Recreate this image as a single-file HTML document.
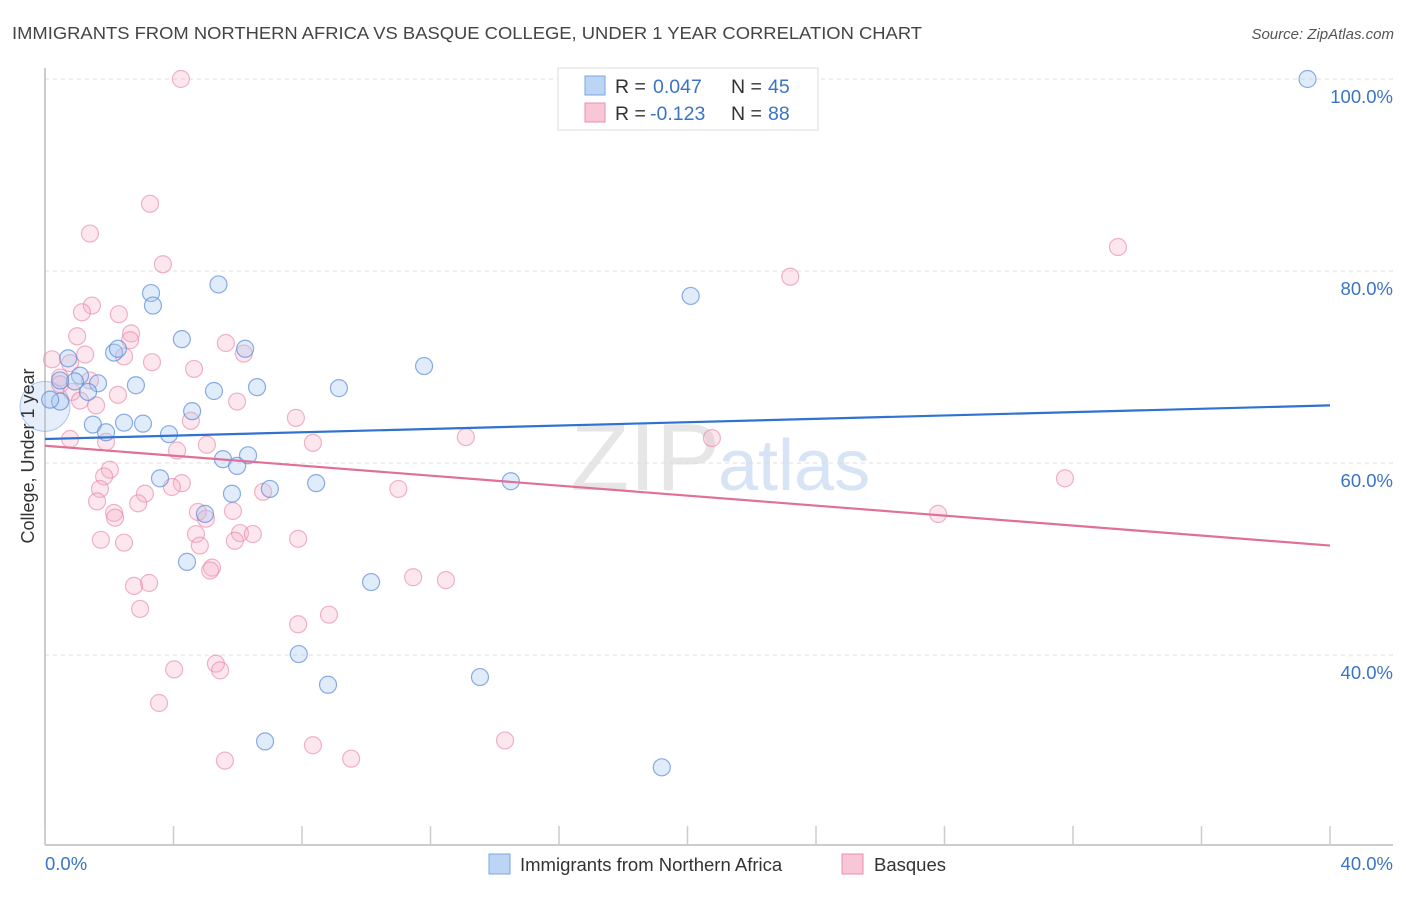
<!DOCTYPE html>
<html><head><meta charset="utf-8"><style>
body{margin:0;background:#fff;font-family:"Liberation Sans",sans-serif;}
svg text{font-family:"Liberation Sans",sans-serif;}
</style></head><body>
<svg id="chart" width="1406" height="892" xmlns="http://www.w3.org/2000/svg">
<text x="12" y="39" font-size="17.5" fill="#444" textLength="910" lengthAdjust="spacingAndGlyphs">IMMIGRANTS FROM NORTHERN AFRICA VS BASQUE COLLEGE, UNDER 1 YEAR CORRELATION CHART</text>
<text x="1394" y="39" font-size="15" fill="#555" font-style="italic" text-anchor="end">Source: ZipAtlas.com</text>
<text x="720" y="490" font-size="96" fill="#e6e6e6" text-anchor="end" font-family="Liberation Serif">ZIP</text>
<text x="718" y="490" font-size="72" fill="#d6e4f5">atlas</text>
<g id="grid"></g>
<g id="axes"></g>
<g id="pts"></g>
<g id="trend"></g>
<text x="34" y="456" font-size="18" fill="#333" text-anchor="middle" transform="rotate(-90 34 456)">College, Under 1 year</text>
<text x="45" y="870" font-size="18.5" fill="#3a75c4">0.0%</text>
<text x="1393" y="870" font-size="18.5" fill="#3a75c4" text-anchor="end">40.0%</text>
<g>
<rect x="558" y="68" width="260" height="62" fill="#fff" stroke="#ddd"/>
<rect x="585" y="76" width="20" height="19" fill="#bcd5f5" stroke="#7aa5e0"/>
<rect x="585" y="103" width="20" height="19" fill="#f9c6d6" stroke="#e890b0"/>
<text x="615" y="93" font-size="19.5" fill="#333">R =</text>
<text x="653" y="93" font-size="19.5" fill="#3a75c4">0.047</text>
<text x="731" y="93" font-size="19.5" fill="#333">N =</text>
<text x="768" y="93" font-size="19.5" fill="#3a75c4">45</text>
<text x="615" y="120" font-size="19.5" fill="#333">R =</text>
<text x="650" y="120" font-size="19.5" fill="#3a75c4">-0.123</text>
<text x="731" y="120" font-size="19.5" fill="#333">N =</text>
<text x="768" y="120" font-size="19.5" fill="#3a75c4">88</text>
</g>
<g>
<rect x="489" y="854" width="21" height="20" fill="#bcd5f5" stroke="#7aa5e0"/>
<text x="520" y="871" font-size="18.5" fill="#333">Immigrants from Northern Africa</text></g>
<g>
<rect x="842" y="854" width="21" height="20" fill="#f9c6d6" stroke="#e890b0"/>
<text x="874" y="871" font-size="18.5" fill="#333">Basques</text></g>
</svg>
<script>
const yTicks=[40,60,80,100];
const blueX=[39.3,3.3,5.4,3.36,20.1,4.26,6.23,0.72,2.15,2.27,11.8,2.83,1.65,1.09,1.34,0.93,6.6,9.15,5.26,0.47,4.58,1.49,2.46,3.05,1.9,3.86,5.54,5.98,6.32,3.58,8.44,5.82,7.0,14.5,4.98,4.42,10.15,7.9,8.81,13.54,6.85,19.2,0.16,0.47];
const blueY=[100,77.7,78.6,76.4,77.4,72.9,71.9,70.9,71.5,71.9,70.1,68.1,68.3,69.1,67.4,68.5,67.9,67.8,67.5,66.4,65.4,64.0,64.2,64.1,63.2,63.0,60.4,59.7,60.8,58.4,57.9,56.8,57.3,58.1,54.7,49.7,47.6,40.1,36.9,37.7,31.0,28.3,66.6,68.6];
const pinkX=[4.23,3.27,1.4,3.67,23.2,33.4,1.46,1.15,2.3,1.0,2.68,2.65,5.63,6.19,1.25,3.33,2.46,0.22,4.64,0.78,0.47,1.4,0.47,0.84,2.27,1.09,1.59,5.98,7.81,4.54,0.78,1.9,8.34,13.1,20.76,5.04,4.11,2.02,1.84,1.71,3.11,4.26,3.95,11.0,6.79,31.75,2.9,1.62,2.15,2.18,4.76,5.01,5.85,27.8,4.7,6.07,6.47,5.91,1.74,2.46,7.88,4.82,5.2,5.14,11.46,12.48,3.24,2.77,2.96,7.88,8.84,4.02,5.32,5.45,3.55,8.34,9.53,14.32,5.6];
const pinkY=[100,87.0,83.9,80.7,79.4,82.5,76.4,75.7,75.5,73.2,73.5,72.8,72.5,71.4,71.3,70.5,71.1,70.8,69.8,70.4,68.9,68.6,68.2,67.4,67.1,66.5,66.0,66.4,64.7,64.4,62.5,62.2,62.1,62.7,62.6,61.9,61.3,59.3,58.6,57.3,56.8,57.9,57.5,57.3,57.0,58.4,55.8,56.0,54.8,54.3,54.9,54.2,55.0,54.7,52.6,52.7,52.6,51.9,52.0,51.7,52.1,51.4,49.1,48.8,48.1,47.8,47.5,47.2,44.8,43.2,44.2,38.5,39.1,38.4,35.0,30.6,29.2,31.1,29.0];
const bigBlue=[0,65.9];
const blueTrend=[62.5,66.0];
const pinkTrend=[61.8,51.4];
const xDomain=[0,40];
const NS="http://www.w3.org/2000/svg";
const X=v=>45+(v-xDomain[0])/(xDomain[1]-xDomain[0])*1285;
const Y=v=>1039-v*9.6;
function mk(tag,attrs,parent){const e=document.createElementNS(NS,tag);for(const k in attrs)e.setAttribute(k,attrs[k]);document.getElementById(parent).appendChild(e);return e;}
yTicks.forEach(t=>{
 const l=mk('line',{x1:45,x2:1393,y1:Y(t),y2:Y(t),stroke:'#ddd','stroke-dasharray':'4,4'},'grid');
 
 
 const tx=mk('text',{x:1393,y:Y(t)+24,'font-size':18.5,fill:'#3a75c4','text-anchor':'end'},'grid');
 tx.textContent=t.toFixed(1)+'%';
 
 
});
const ax=mk('line',{x1:45,x2:1393,y1:845,y2:845,stroke:'#bbb','stroke-width':1.5},'axes');


const ay=mk('line',{x1:45,x2:45,y1:68,y2:845,stroke:'#bbb','stroke-width':1.5},'axes');


for(let i=0;i<=10;i++){const v=i*4;
 const tk=mk('line',{x1:X(v),x2:X(v),y1:826,y2:845,stroke:'#ccc','stroke-width':1.5},'axes');
 
 }
const bb=mk('circle',{cx:X(bigBlue[0]),cy:Y(bigBlue[1]),r:25,fill:'rgba(168,200,240,0.3)',stroke:'rgba(90,140,215,0.45)'},'pts');


pinkX.forEach((x,i)=>{const c=mk('circle',{cx:X(x),cy:Y(pinkY[i]),r:8.5,fill:'rgba(245,175,200,0.3)',stroke:'rgba(232,130,165,0.6)','stroke-width':1.2},'pts');
 
 });
blueX.forEach((x,i)=>{const c=mk('circle',{cx:X(x),cy:Y(blueY[i]),r:8.5,fill:'rgba(168,200,240,0.35)',stroke:'rgba(90,140,215,0.7)','stroke-width':1.2},'pts');
 
 });
const bt=mk('line',{x1:X(0),x2:X(40),y1:Y(blueTrend[0]),y2:Y(blueTrend[1]),stroke:'#2f72d0','stroke-width':2.2},'trend');


const pt=mk('line',{x1:X(0),x2:X(40),y1:Y(pinkTrend[0]),y2:Y(pinkTrend[1]),stroke:'#e0709a','stroke-width':2.2},'trend');


</script>
</body></html>
